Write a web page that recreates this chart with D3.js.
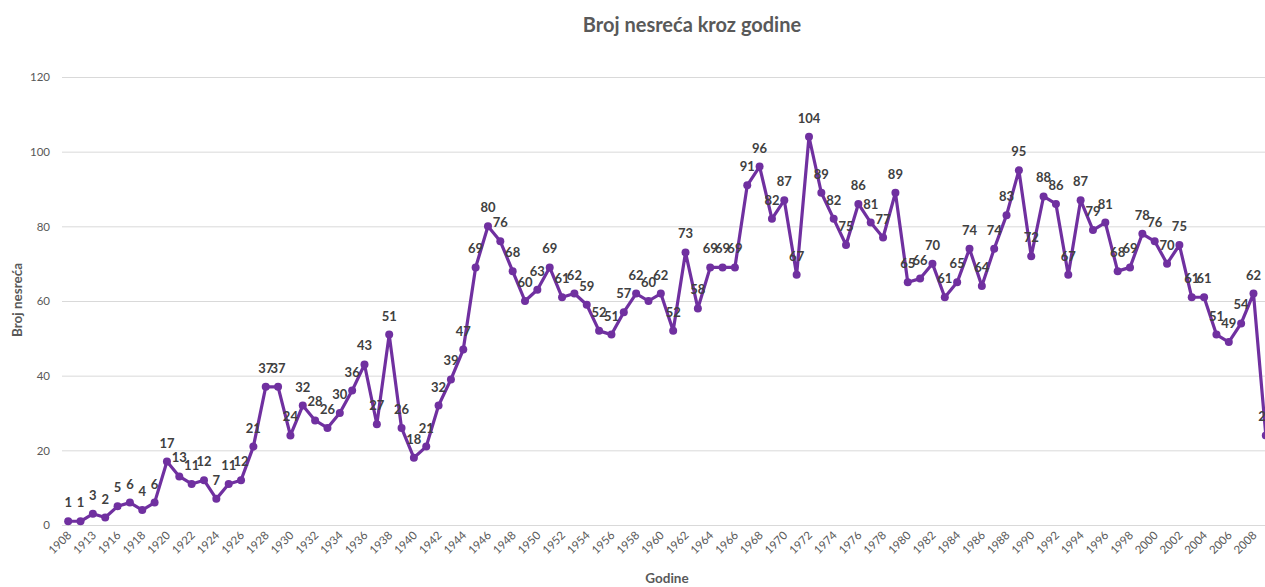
<!DOCTYPE html>
<html><head><meta charset="utf-8">
<script src="https://cdn.jsdelivr.net/npm/d3@7"></script>
<style>
html,body{margin:0;padding:0;background:#fff;overflow:hidden}
text{font-family:Lato,"Open Sans",sans-serif}
</style></head>
<body><svg id="c" width="1265" height="587"></svg>
<script>
(function(){
const years = ["1908","1912","1913","1915"].concat(d3.range(1916,2010).map(String));
const accidents = [1,1,3,2,
 5,6,4,6,17,
 13,11,12,7,11,12,21,37,37,24,
 32,28,26,30,36,43,27,51,26,18,
 21,32,39,47,69,80,76,68,60,63,
 69,61,62,59,52,51,57,62,60,62,
 52,73,58,69,69,69,91,96,82,87,
 67,104,89,82,75,86,81,77,89,65,
 66,70,61,65,74,64,74,83,95,72,
 88,86,67,87,79,81,68,69,78,76,
 70,75,61,61,51,49,54,62,24];
const yTicks = [0,20,40,60,80,100,120];
const tickYears = years.filter((d,i)=>i%2===0);
const title = "Broj nesreća kroz godine";
const yTitle = "Broj nesreća";
const xTitle = "Godine";

const svg = d3.select("#c");
const mLeft = 62, mRight = 1272, mTop = 77, mBottom = 525;
const x = d3.scaleBand().domain(years).range([mLeft,mRight]);
const y = d3.scaleLinear().domain([0,120]).range([mBottom,mTop]);
const cx = d => x(d)+x.bandwidth()/2;

const ya = d3.axisLeft(y).tickValues(yTicks).tickSize(-(mRight-mLeft)).tickPadding(12);
const gy = svg.append("g").attr("transform",`translate(${mLeft},0)`).call(ya);
gy.select(".domain").remove();
gy.selectAll("line").attr("stroke","#d9d9d9");
gy.selectAll("text").attr("fill","#595959").style("font-size","11.5px");

const xa = d3.axisBottom(x).tickValues(tickYears).tickSize(0).tickPadding(0);
const gx = svg.append("g").attr("transform",`translate(0,${mBottom})`).call(xa);
gx.select(".domain").remove();
gx.selectAll("text").attr("fill","#595959").style("font-size","11.5px")
  .attr("text-anchor","end").attr("dy",0).attr("y",0)
  .attr("transform","translate(4,11) rotate(-45)");

svg.append("path").datum(accidents)
 .attr("fill","none").attr("stroke","#7030a0").attr("stroke-width",3.2)
 .attr("stroke-linejoin","round")
 .attr("d", d3.line().x((d,i)=>cx(years[i])).y(d=>y(d)));
svg.append("g").selectAll("circle").data(accidents).join("circle")
 .attr("cx",(d,i)=>cx(years[i])).attr("cy",d=>y(d)).attr("r",4).attr("fill","#7030a0");
svg.append("g").selectAll("text").data(accidents).join("text")
 .attr("x",(d,i)=>cx(years[i])).attr("y",d=>y(d)-14)
 .attr("text-anchor","middle").attr("fill","#404040")
 .style("font-size","13px").style("font-weight","bold").text(d=>d);

svg.append("text").attr("x",692).attr("y",32).attr("text-anchor","middle")
 .attr("fill","#595959").style("font-size","20px").style("font-weight","bold").text(title);
svg.append("text").attr("transform","translate(22,300) rotate(-90)").attr("text-anchor","middle")
 .attr("fill","#595959").style("font-size","13.5px").style("font-weight","bold").text(yTitle);
svg.append("text").attr("x",667).attr("y",583).attr("text-anchor","middle")
 .attr("fill","#595959").style("font-size","13.5px").style("font-weight","bold").text(xTitle);
})();
</script></body></html>
